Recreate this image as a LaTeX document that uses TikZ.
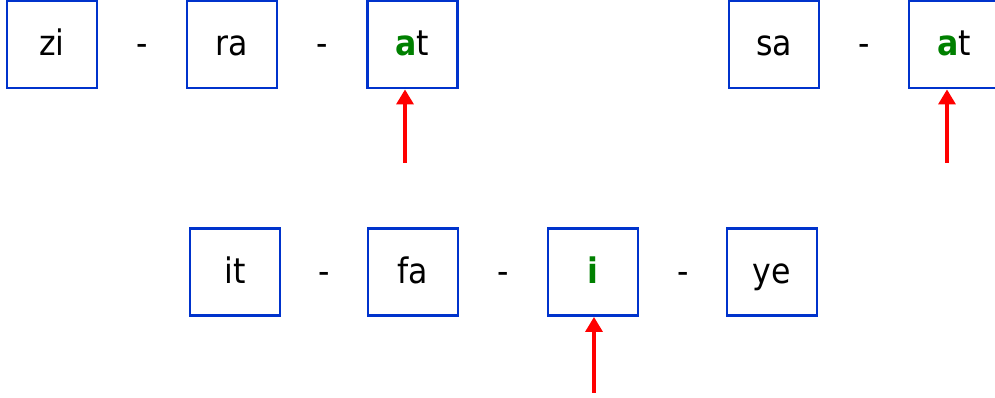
\documentclass[tikz,border=0pt]{standalone}
\usepackage{fontspec}
\setmainfont{DejaVu Sans Condensed}
\usetikzlibrary{arrows.meta}
\definecolor{boxblue}{HTML}{0033CC}
\definecolor{hlgreen}{HTML}{008000}
\tikzset{
	syl/.style={draw=boxblue, line width=1.65pt, minimum width=1.8cm, minimum height=1.74cm, inner sep=0pt, text height=0.62cm, text depth=0.16cm, font=\fontsize{20pt}{24pt}\selectfont},
	sep/.style={inner sep=0pt, text height=0.62cm, text depth=0.16cm, font=\fontsize{20pt}{24pt}\selectfont},
	pointer/.style={draw=red, line width=1.9pt, -{Triangle[length=0.3cm,width=0.34cm]}}
}
\newcommand{\hl}[1]{\textcolor{hlgreen}{\textbf{#1}}}
\begin{document}
\begin{tikzpicture}[x=0.02cm, y=-0.02cm]
		\useasboundingbox (0,0) rectangle (995,398);
		% first word
		\node[syl] (zi) at (52,44.5) {zi};
		\node[sep] (d1) at (142,44.5) {-};
		\node[syl] (ra) at (232,44.5) {ra};
		\node[sep] (d2) at (322,44.5) {-};
		\node[syl] (at) at (412.5,44.5) {\hl{a}t};
		
		% second word
		\node[syl] (sa) at (774,44.5) {sa};
		\node[sep] (d3) at (864,44.5) {-};
		\node[syl] (at2) at (954,44.5) {\hl{a}t};
		
		% third word
		\node[syl] (it) at (235,272) {it};
		\node[sep] (d4) at (324,272) {-};
		\node[syl] (fa) at (413,272) {fa};
		\node[sep] (d5) at (503,272) {-};
		\node[syl] (i) at (593,272) {\hl{i}};
		\node[sep] (d6) at (683,272) {-};
		\node[syl] (ye) at (772,272) {ye};
		
		\coordinate (P1) at (405,163);
		\coordinate (P2) at (947,163);
		\coordinate (P3) at (594,393);
		
		\path []
		(P1) edge[pointer] (P1 |- at.south)
		(P2) edge[pointer] (P2 |- at2.south)
		(P3) edge[pointer] (P3 |- i.south);
	\end{tikzpicture}
\end{document}
